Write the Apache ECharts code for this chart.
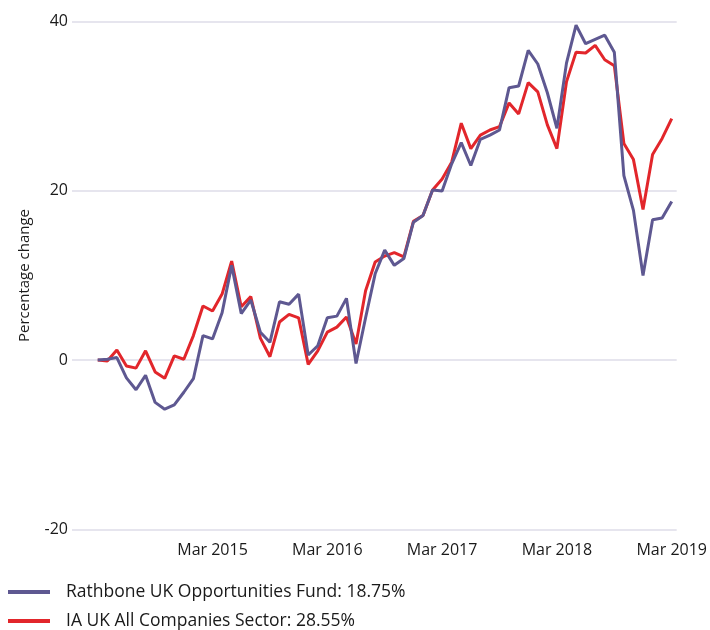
<!DOCTYPE html>
<html>
<head>
<meta charset="utf-8">
<script src="https://cdn.jsdelivr.net/npm/echarts@6/dist/echarts.min.js"></script>
<style>
html,body{margin:0;padding:0;background:#fff;}
#chart{width:710px;height:630px;}
</style>
</head>
<body>
<div id="chart"></div>
<script>
// Monthly points, Mar 2014 (index 0) to Mar 2019 (index 60)
const tickIndices = [12, 24, 36, 48, 60];
const tickLabels = ['Mar 2015', 'Mar 2016', 'Mar 2017', 'Mar 2018', 'Mar 2019'];

const fundName = 'Rathbone UK Opportunities Fund: 18.75%';
const sectorName = 'IA UK All Companies Sector: 28.55%';

const fundValues = [
  0, 0.1, 0.3, -2.1, -3.5, -1.8, -5.0, -5.8, -5.3, -3.8, -2.2,
  2.9, 2.5, 5.6, 11.2, 5.5, 7.1, 3.3, 2.1, 6.9, 6.6,
  7.8, 0.6, 1.7, 5.0, 5.2, 7.3, -0.4, 5.0, 10.2, 13.0,
  11.2, 12.0, 16.3, 17.1, 20.1, 20.0, 23.2, 25.7, 23.0, 26.1,
  26.6, 27.2, 32.2, 32.4, 36.6, 35.0, 31.6, 27.4, 35.1, 39.6,
  37.4, 37.9, 38.4, 36.4, 21.8, 17.7, 10.0, 16.6, 16.8, 18.75
];
const sectorValues = [
  0, -0.1, 1.2, -0.7, -0.95, 1.1, -1.4, -2.15, 0.5, 0.1, 2.9,
  6.4, 5.8, 7.8, 11.7, 6.3, 7.5, 2.6, 0.4, 4.5, 5.4,
  5.0, -0.5, 1.1, 3.3, 3.9, 5.1, 1.9, 8.2, 11.6, 12.3,
  12.7, 12.2, 16.4, 17.1, 20.1, 21.4, 23.4, 28.0, 25.0, 26.6,
  27.2, 27.6, 30.4, 29.1, 32.8, 31.7, 27.8, 25.0, 32.9, 36.4,
  36.3, 37.2, 35.5, 34.8, 25.6, 23.7, 17.8, 24.3, 26.2, 28.55
];

const yTicks = [-20, 0, 20, 40];

const FONT = 'Open Sans';
const fundColor = '#5e5891';
const sectorColor = '#e2262b';

const legendBase = {
  orient: 'horizontal',
  left: 8,
  padding: 0,
  itemWidth: 42,
  itemHeight: 4,
  icon: 'rect',
  textStyle: {color: '#1a1a1a', fontSize: 17.5, fontFamily: FONT, padding: [0, 0, 0, 11]}
};

const chart = echarts.init(document.getElementById('chart'), null, {renderer: 'canvas'});
chart.setOption({
  animation: false,
  textStyle: {fontFamily: FONT},
  grid: {left: 72, right: 29, top: 21.7, bottom: 100.7, containLabel: false},
  xAxis: {
    type: 'value',
    min: -2.69,
    max: 60.52,
    axisLine: {show: false},
    axisTick: {show: false},
    splitLine: {show: false},
    axisLabel: {
      customValues: tickIndices,
      formatter: function (v) { return tickLabels[tickIndices.indexOf(Math.round(v))] || ''; },
      color: '#1a1a1a', fontSize: 16, fontFamily: FONT, margin: 13
    }
  },
  yAxis: {
    type: 'value',
    min: yTicks[0], max: yTicks[yTicks.length - 1], interval: 20,
    name: 'Percentage change',
    nameLocation: 'middle',
    nameGap: 40,
    nameTextStyle: {color: '#1a1a1a', fontSize: 15, fontFamily: FONT},
    axisLine: {show: false},
    axisTick: {show: false},
    axisLabel: {color: '#1a1a1a', fontSize: 16, fontFamily: FONT, margin: 4},
    splitLine: {lineStyle: {color: '#dedde8', width: 1.5}}
  },
  legend: [
    Object.assign({}, legendBase, {top: 583, data: [fundName]}),
    Object.assign({}, legendBase, {top: 612, data: [sectorName]})
  ],
  series: [
    {
      name: fundName, type: 'line', z: 3,
      data: fundValues.map((v, i) => [i, v]),
      showSymbol: false, symbol: 'none',
      lineStyle: {color: fundColor, width: 3},
      itemStyle: {color: fundColor}
    },
    {
      name: sectorName, type: 'line', z: 2,
      data: sectorValues.map((v, i) => [i, v]),
      showSymbol: false, symbol: 'none',
      lineStyle: {color: sectorColor, width: 3},
      itemStyle: {color: sectorColor}
    }
  ]
});
</script>
</body>
</html>
